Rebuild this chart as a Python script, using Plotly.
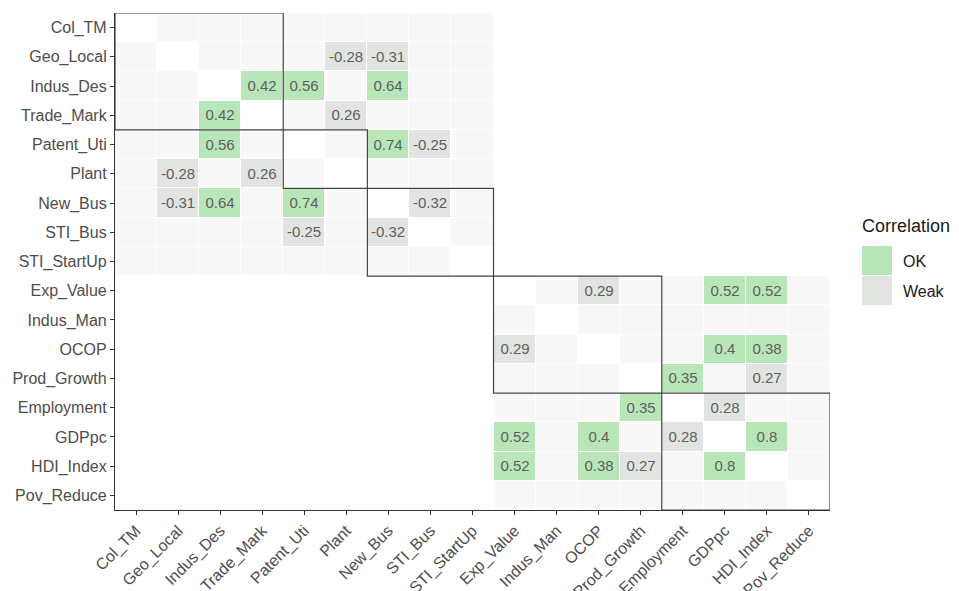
import plotly.graph_objects as go
import numpy as np

# ---------------- data ----------------
variables = ["Col_TM", "Geo_Local", "Indus_Des", "Trade_Mark", "Patent_Uti", "Plant",
             "New_Bus", "STI_Bus", "STI_StartUp", "Exp_Value", "Indus_Man", "OCOP",
             "Prod_Growth", "Employment", "GDPpc", "HDI_Index", "Pov_Reduce"]

# blocks of variables whose pairwise correlations are shown
blocks = [variables[0:9], variables[9:17]]

# clusters outlined with rectangles
clusters = [
    ["Col_TM", "Geo_Local", "Indus_Des", "Trade_Mark"],
    ["Patent_Uti", "Plant"],
    ["New_Bus", "STI_Bus", "STI_StartUp"],
    ["Exp_Value", "Indus_Man", "OCOP", "Prod_Growth"],
    ["Employment", "GDPpc", "HDI_Index", "Pov_Reduce"],
]

pair_a = ["Geo_Local", "Geo_Local", "Indus_Des", "Indus_Des", "Indus_Des", "Trade_Mark",
          "Patent_Uti", "Patent_Uti", "New_Bus",
          "Exp_Value", "Exp_Value", "Exp_Value", "OCOP", "OCOP", "Prod_Growth",
          "Prod_Growth", "Employment", "GDPpc"]
pair_b = ["Plant", "New_Bus", "Trade_Mark", "Patent_Uti", "New_Bus", "Plant",
          "New_Bus", "STI_Bus", "STI_Bus",
          "OCOP", "GDPpc", "HDI_Index", "GDPpc", "HDI_Index", "Employment",
          "HDI_Index", "GDPpc", "HDI_Index"]
pair_r = [-0.28, -0.31, 0.42, 0.56, 0.64, 0.26,
          0.74, -0.25, -0.32,
          0.29, 0.52, 0.52, 0.4, 0.38, 0.35,
          0.27, 0.28, 0.8]

legend_labels = ["OK", "Weak"]
ok_threshold = 0.35

# ---------------- styles ----------------
col_none = "#f8f8f8"
col_weak = "#e1e4e1"
col_ok = "#b9e6b9"
font_family = "Liberation Sans, Arial, sans-serif"

n = len(variables)
idx = {v: i for i, v in enumerate(variables)}
z = np.full((n, n), np.nan)
text = [["" for _ in range(n)] for _ in range(n)]
for blk in blocks:
    for a in blk:
        for b in blk:
            if a != b:
                z[idx[a], idx[b]] = 0
for a, b, r in zip(pair_a, pair_b, pair_r):
    cat = 2 if abs(r) >= ok_threshold else 1
    for i, j in ((idx[a], idx[b]), (idx[b], idx[a])):
        z[i, j] = cat
        text[i][j] = f"{r:g}"

fig = go.Figure()
fig.add_trace(go.Heatmap(
    x=variables, y=variables, z=z, text=text, texttemplate="%{text}",
    textfont=dict(size=15, color="#5e5e5e", family=font_family),
    colorscale=[[0, col_none], [1/3, col_none], [1/3, col_weak], [2/3, col_weak],
                [2/3, col_ok], [1, col_ok]],
    zmin=-0.5, zmax=2.5, showscale=False, xgap=1, ygap=1, hoverinfo="skip",
))

shapes = []
for cl in clusters:
    i0, i1 = idx[cl[0]], idx[cl[-1]]
    shapes.append(dict(type="rect", xref="x", yref="y",
                       x0=i0 - 0.5, x1=i1 + 0.5, y0=i0 - 0.5, y1=i1 + 0.5,
                       line=dict(color="#444444", width=1.2), fillcolor="rgba(0,0,0,0)"))

# page offset (browser body margin)
OFF = 8
# manual legend (paper coordinates), positions given in target-image pixels
L, R, T, B = 115 - OFF, 830 - OFF, 13 - OFF, 510 - OFF
W, H = R - L, B - T
def px(x): return (x - OFF - L) / W
def py(y): return (B - (y - OFF)) / H

legend_cols = [col_ok, col_weak]
annotations = [dict(text="Correlation", xref="paper", yref="paper", x=px(860), y=py(226),
                    xanchor="left", yanchor="middle", showarrow=False,
                    font=dict(size=18, color="#1a1a1a", family=font_family))]
for k, (lab, c) in enumerate(zip(legend_labels, legend_cols)):
    top = 246 + 30 * k
    shapes.append(dict(type="rect", xref="paper", yref="paper",
                       x0=px(862), x1=px(892), y0=py(top + 29), y1=py(top),
                       fillcolor=c, line=dict(width=0)))
    annotations.append(dict(text=lab, xref="paper", yref="paper", x=px(901), y=py(top + 15),
                            xanchor="left", yanchor="middle", showarrow=False,
                            font=dict(size=16, color="#1a1a1a", family=font_family)))

axis_common = dict(showgrid=False, zeroline=False, showline=True, linecolor="#333333",
                   linewidth=1.2, ticks="outside", ticklen=4, tickcolor="#333333",
                   tickfont=dict(size=16, color="#4d4d4d", family=font_family),
                   automargin=False)
fig.update_layout(
    width=959, height=591,
    margin=dict(l=L, r=959 - R, t=T, b=591 - B),
    paper_bgcolor="white", plot_bgcolor="white",
    xaxis=dict(**axis_common, tickangle=-45, categoryorder="array", categoryarray=variables,
               range=[-0.5, n - 0.5]),
    yaxis=dict(**axis_common, categoryorder="array", categoryarray=variables,
               range=[n - 0.5, -0.5]),
    shapes=shapes, annotations=annotations, showlegend=False,
)
fig.write_html("out.html")
